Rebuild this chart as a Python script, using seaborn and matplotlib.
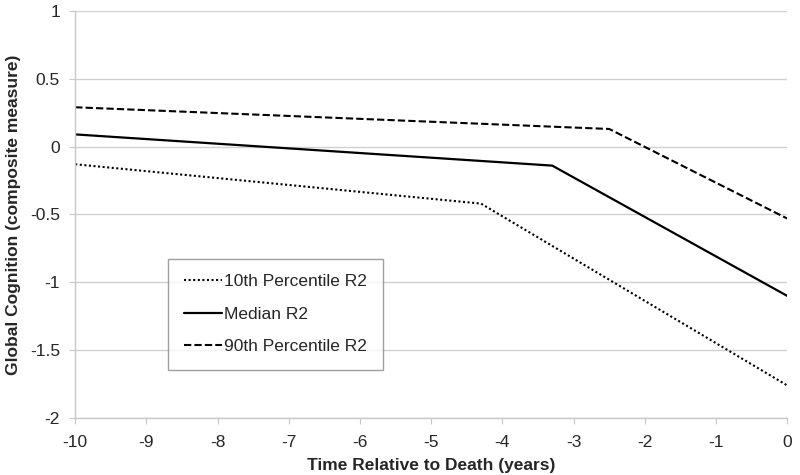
import matplotlib
matplotlib.use("Agg")
import matplotlib.pyplot as plt
import seaborn as sns
import pandas as pd
import numpy as np

# values
x_p10 = [-10, -4.3, 0]
y_p10 = [-0.13, -0.42, -1.76]
x_med = [-10, -3.3, 0]
y_med = [0.09, -0.14, -1.10]
x_p90 = [-10, -2.5, 0]
y_p90 = [0.29, 0.13, -0.53]

names = ["10th Percentile R2", "Median R2", "90th Percentile R2"]
styles = [(0, (1, 1.2)), "-", (0, (3.5, 1.5))]

df = pd.concat([
    pd.DataFrame({"t": x_p10, "g": y_p10, "s": names[0]}),
    pd.DataFrame({"t": x_med, "g": y_med, "s": names[1]}),
    pd.DataFrame({"t": x_p90, "g": y_p90, "s": names[2]}),
])

sns.set_style("white")
plt.rcParams["font.family"] = ["Liberation Sans", "DejaVu Sans"]
plt.rcParams["axes.unicode_minus"] = False

fig, ax = plt.subplots(figsize=(8, 4.75), dpi=100)
fig.subplots_adjust(left=0.094, right=0.984, top=0.977, bottom=0.12)

for name, ls in zip(names, styles):
    sub = df[df["s"] == name]
    sns.lineplot(data=sub, x="t", y="g", color="black", lw=1.6 if ls == "-" else 1.5,
                 linestyle=ls, label=name, ax=ax, sort=False)

ax.set_xlim(-10, 0)
ax.set_ylim(-2, 1)
ax.set_xticks(range(-10, 1))
ax.set_yticks([1, 0.5, 0, -0.5, -1, -1.5, -2])
ax.set_yticklabels(["1", "0.5", "0", "-0.5", "-1", "-1.5", "-2"])
ax.yaxis.grid(True, color="#d0d0d0", lw=1)
ax.set_axisbelow(True)
for s in ["top", "right"]:
    ax.spines[s].set_visible(False)
for s in ["left", "bottom"]:
    ax.spines[s].set_color("#c8c8c8")
    ax.spines[s].set_linewidth(1)
ax.tick_params(axis="both", length=4, color="#c8c8c8", labelsize=12.5, direction="out")
ax.tick_params(axis="x", bottom=True, pad=8)
ax.tick_params(axis="y", left=True, pad=7)

ax.set_xlabel("Time Relative to Death (years)", fontsize=12.5, fontweight="bold", labelpad=6)
ax.set_ylabel("Global Cognition (composite measure)", fontsize=12.5, fontweight="bold", labelpad=6)

leg = ax.legend(loc="lower left", bbox_to_anchor=(0.131, 0.118), fontsize=12.5,
                frameon=True, fancybox=False, edgecolor="#888888", handlelength=2.2,
                handletextpad=0.1, labelspacing=1.0, borderpad=0.9, borderaxespad=0)
leg.get_frame().set_linewidth(1)

plt.savefig("out.png", dpi=100)
